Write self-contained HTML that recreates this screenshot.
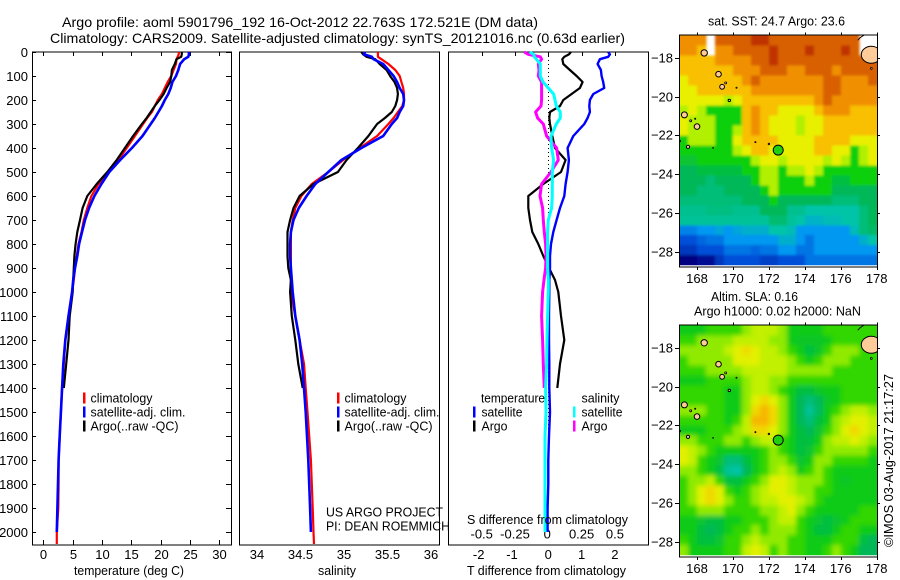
<!DOCTYPE html>
<html>
<head>
<meta charset="utf-8">
<title>Argo profile</title>
<style>
html,body{margin:0;padding:0;background:#fff;}
svg{display:block;}
text{font-family:"Liberation Sans",sans-serif;fill:#000;}
</style>
</head>
<body>
<svg id="chart" xmlns="http://www.w3.org/2000/svg" width="900" height="580" viewBox="0 0 900 580"></svg>
<script>
// ---------- profile data ----------
const depths = [0,10,20,30,50,75,100,125,150,175,200,225,250,275,300,350,400,450,500,550,600,650,700,750,800,850,900,950,1000,1100,1200,1300,1400,1500,1600,1700,1800,1900,2000,2050];
const tempClim = [23.1,23.07,22.9,22.7,22.6,22.2,21.8,21.2,20.7,20.2,19.5,19.0,18.5,17.7,17.0,15.6,14.2,12.8,11.1,9.4,8.2,7.5,6.9,6.5,6.0,5.7,5.4,5.2,4.9,4.3,3.75,3.5,3.2,3.0,2.8,2.6,2.6,2.55,2.3,2.3];
const tempSat = [24.8,24.8,24.7,24.0,23.3,23.0,22.6,22.0,21.7,21.3,20.7,20.2,19.6,19.0,18.3,16.9,15.1,13.1,11.25,9.9,8.7,7.8,7.1,6.6,6.1,5.8,5.4,5.1,4.9,4.3,3.75,3.4,3.2,3.0,2.8,2.6,2.5,2.4,2.3,null];
const tempArgo = [23.6,23.6,23.5,22.7,22.4,21.9,21.8,21.6,21.0,20.5,19.8,19.0,18.3,17.6,16.8,15.3,13.9,12.5,10.9,9.1,7.5,6.7,6.25,5.8,5.5,5.3,5.2,5.1,5.0,4.5,4.3,3.9,3.5,null,null,null,null,null,null,null];
const salClim = [35.39,35.39,35.39,35.43,35.51,35.59,35.64,35.66,35.68,35.69,35.69,35.67,35.62,35.57,35.51,35.38,35.18,34.99,34.82,34.63,34.51,34.44,34.41,34.39,34.39,34.39,34.39,34.39,34.39,34.44,34.49,34.54,34.56,34.58,34.60,34.62,34.63,34.64,34.65,34.655];
const salSat = [35.24,35.23,35.32,35.34,35.45,35.51,35.57,35.61,35.64,35.68,35.69,35.68,35.64,35.61,35.55,35.45,35.2,34.97,34.82,34.67,34.57,34.48,34.42,34.39,34.38,34.38,34.39,34.40,34.41,34.44,34.49,34.52,34.54,34.56,34.575,34.59,34.60,34.61,34.62,null];
const salArgo = [35.2,35.22,35.26,35.36,35.41,35.49,35.53,35.58,35.61,35.62,35.61,35.59,35.55,35.47,35.38,35.28,35.16,35.03,34.93,34.65,34.49,34.42,34.38,34.35,34.35,34.35,34.36,34.39,34.38,34.40,34.44,34.475,34.525,null,null,null,null,null,null,null];
const diffTempSat = [1.8,1.85,1.8,1.55,1.48,1.58,1.6,1.65,1.68,1.35,1.25,1.23,1.25,1.18,1.08,0.75,0.58,0.62,0.58,0.52,0.48,0.35,0.25,0.15,0.08,0.05,0.05,0.03,0.03,0.02,0.02,0.03,0.03,0.05,0.02,0,0,-0.02,-0.02,null];
const diffTempArgo = [0.68,0.62,0.48,0.42,0.45,0.65,0.85,1.03,0.95,0.7,0.45,0.35,0.05,0.03,0.05,0.12,0.2,0.52,0.38,-0.15,-0.6,-0.6,-0.55,-0.48,-0.3,-0.15,0.02,0.2,0.3,0.38,0.48,0.35,0.27,null,null,null,null,null,null,null];
const diffSalSat = [-0.14,-0.11,-0.105,-0.09,-0.06,-0.06,-0.06,-0.04,0,0.04,0.05,0.06,0.09,0.09,0.06,0.02,0.025,0.04,0.03,0.03,0.03,0.025,0,-0.005,-0.005,-0.005,-0.005,0,0,-0.005,-0.01,-0.0125,-0.02,-0.0175,-0.025,-0.025,-0.025,-0.025,-0.025,null];
const diffSalArgo = [-0.18,-0.15,-0.06,-0.05,-0.075,-0.07,-0.075,-0.05,-0.05,-0.05,-0.05,-0.055,-0.095,-0.08,-0.0375,-0.0125,0.0625,0.075,0.02,-0.05,-0.0625,-0.0425,-0.0375,-0.03,-0.02,-0.0175,-0.02,-0.0325,-0.0425,-0.05,-0.0425,-0.0375,-0.03,null,null,null,null,null,null,null];

// ---------- tick labels ----------
const depthTicks = [0,100,200,300,400,500,600,700,800,900,1000,1100,1200,1300,1400,1500,1600,1700,1800,1900,2000];
const tempTicks = [0,5,10,15,20,25,30];
const salTicks = [34,34.5,35,35.5,36];
const diffTempTicks = [-2,-1,0,1,2];
const diffSalTicks = [-0.5,-0.25,0,0.25,0.5];
const lonTicks = [168,170,172,174,176,178];
const latTicks = [-18,-20,-22,-24,-26,-28];

// ---------- map data (half-degree cells, colour-scale level; null = no data) ----------
const sstGrid = [
[9,9,9,null,10,10,10,10,11,11,10,10,10,10,10,10,10,10,10,10,null,null],
[9,9,8,null,9,9,10,10,10,10,11,10,10,10,11,10,10,10,11,10,null,null],
[8,8,8,8,9,9,9,9,10,10,11,10,10,10,10,10,10,10,10,10,10,10],
[8,8,8,8,8,8,9,9,9,10,10,10,9,9,10,10,10,9,10,10,10,10],
[7,8,8,8,8,8,8,9,10,9,9,9,9,9,9,9,10,10,9,9,9,10],
[7,7,8,8,8,8,8,8,9,9,9,9,9,9,9,9,10,10,9,9,9,9],
[7,7,7,7,7,6,7,8,8,8,8,8,8,8,8,9,10,9,9,9,9,9],
[6,7,6,5,5,5,5,8,9,8,8,7,7,7,7,8,9,9,9,8,8,8],
[7,6,6,6,5,5,5,8,9,8,7,7,7,6,7,7,8,8,8,8,8,8],
[7,6,6,6,5,5,6,8,9,8,7,7,7,6,7,7,8,8,8,8,8,8],
[5,6,6,6,5,5,7,8,8,8,8,7,7,7,7,8,8,8,8,7,7,7],
[5,5,5,5,5,5,6,7,8,8,7,7,7,7,7,8,8,7,7,5,6,7],
[4.5,4.5,5,5,5,5,5,5,6,7,7,6,7,7,7,7,6,7,6,5,6,7],
[4,4,4.3,4.3,4.3,4.3,4.3,5,5,6,6,5,6,6,7,6,5,5,5,5,5,5],
[4,4,4,3.6,4,4,4,4,5,6,6,5,5,5,6,5,5,4.3,4.3,5,5,5],
[4,4,3.6,3.6,3.6,4,4,4,4,5,6,5,5,5,5,5,5,4,4,4,4,4],
[3.6,3.6,3.6,3.6,3.6,3.6,3.6,4,4,4,5,4,4,4,4,4,4,3.6,3.6,3.6,4,4],
[3.3,3.3,3.3,3.5,3.5,3.5,3.3,3.3,3.3,4,4,4,3.3,3.3,3,3,3,3,3,3,3.6,4],
[3.2,3.2,3.2,3.2,3.2,3.2,3.2,3.2,3.2,3.2,3.7,3.7,3.2,3,2.6,2.6,2.8,2.8,3,3,3.6,4],
[1.7,1.7,2,2,2.3,2,2.3,2.5,2.5,2.5,3,3,2.8,2,2,2,2,2,2,2.8,3.6,3.8],
[1,1,1.3,1.5,1.5,2,2,2,2,2,2,2.5,2.5,2,1.5,2,2,2,2,2,2.5,3],
[0.7,0.7,1,1,1,1.5,1.5,1.5,1.3,1.5,1.5,2,2,1.5,1.5,2,2,2,2,2,2,2],
[0,0,0.2,0.2,0.7,1,1,1,1,0.8,0.8,1,1,1,1.5,1.5,1.5,1.5,1.5,1.5,1.5,1.5]
];
const slaGrid = [
[4.8,4.8,4.8,5.2,5.2,5.2,5.2,5.8,6.3,6.3,6.3,5.8,4.8,4.8,4.8,4.8,5.2,5.2,5.2,5.2,5.2,5.2],
[5.2,5.2,5.8,5.8,5.8,5.8,6.3,6.3,6.3,6.3,5.8,5.8,4.8,4.6,4.6,4.6,4.8,5.2,5.2,5.2,5.2,5.2],
[5.8,5.8,5.8,5.8,5.8,6.3,6.9,7.4,6.9,6.3,6.3,5.8,5.2,4.8,4.3,4.6,5.2,5.8,5.8,5.8,5.2,5.2],
[5.2,5.8,5.8,5.8,5.8,5.8,6.9,6.9,6.9,6.3,6.3,6.3,5.8,5.2,4.8,5.2,5.8,5.8,5.8,5.2,5.2,5.2],
[5.2,5.2,5.2,5.8,5.8,5.8,5.8,6.3,6.3,6.3,6.3,6.3,5.8,5.8,5.8,5.8,5.8,5.2,5.2,5.2,5.2,5.2],
[4.8,4.8,4.8,5.2,5.2,5.2,5.2,5.8,6.3,6.3,5.8,5.8,5.2,5.2,5.2,5.2,5.2,5.2,5.2,5.2,5.2,5.2],
[5.2,5.2,5.2,5.2,5.2,4.8,4.8,5.8,6.3,6.3,5.8,5.2,4.8,4.3,4.3,4.6,4.8,4.8,5.2,5.2,5.2,5.2],
[5.2,5.2,5.2,5.2,5.2,4.8,4.8,5.8,6.9,7.5,6.9,5.8,4.8,4,3.6,4,4.6,4.8,5.2,5.2,5.2,5.2],
[5.8,5.8,5.8,5.2,5.2,4.8,4.8,5.8,7.5,8.2,7.5,5.8,4.8,4,3.2,3.9,4.8,5.2,5.8,6.3,6.3,5.8],
[5.2,5.2,5.2,5.2,5.2,4.8,5.2,6.3,8.2,8.2,7.5,5.8,4.8,4,3.6,4.3,4.8,5.8,6.3,6.9,6.9,6.3],
[4.8,4.8,4.8,5.2,5.2,5.2,5.8,6.3,7.5,7.5,6.9,5.8,4.8,4.3,4,4.5,5.2,5.8,6.9,7.5,6.9,6.3],
[5.8,5.8,5.2,5.2,5.2,5.8,5.8,5.2,5.8,6.3,6.3,5.2,4.8,4.3,4.3,4.8,5.8,6.3,6.3,6.9,6.3,5.8],
[6.9,6.3,5.8,5.2,4.8,4.8,4.8,4.8,4.8,5.2,5.8,5.2,4.8,4.3,4.5,5.2,5.8,5.8,5.8,5.8,5.8,5.2],
[6.9,6.3,5.2,4.8,4.5,3.6,3.6,4.3,4.8,5.2,5.8,5.8,5.2,4.5,4.8,5.8,5.8,5.2,5.2,5.2,5.2,4.8],
[5.8,5.8,5.2,4.8,4.3,3.2,3,4,4.8,5.2,5.8,6.3,5.8,4.8,5.2,5.8,5.2,4.8,4.8,4.8,4.8,4.8],
[5.2,5.8,5.8,6.3,5.2,4.3,4.3,4.8,5.2,5.8,6.9,6.9,6.3,5.8,5.8,5.8,5.2,4.8,4.6,4.8,4.8,4.8],
[5.2,5.8,6.9,7.5,6.9,5.2,4.8,5.2,5.8,6.3,6.9,6.9,6.3,5.8,5.8,5.2,5.2,4.8,4.8,4.8,4.8,4.8],
[5.2,5.8,6.9,7.5,6.9,5.8,5.2,5.2,5.8,6.3,6.3,6.9,6.9,6.3,5.8,5.2,4.8,4.8,4.8,4.8,4.8,4.8],
[5.2,5.2,5.8,5.8,5.8,5.2,5.2,5.2,5.2,5.8,5.8,6.3,6.9,5.8,5.2,4.8,4.8,4.8,4.8,4.8,5.2,5.2],
[4.8,4.8,4.5,4.3,4.3,4.8,4.8,5.2,5.2,5.2,5.8,6.3,6.3,5.2,4.8,4.5,4.3,4.5,4.8,5.2,5.2,5.2],
[4.8,4.8,4.3,4,4.3,4.8,5.2,5.2,5.8,5.2,5.8,5.8,5.8,5.2,4.8,4.3,4.3,4.8,5.2,5.2,4.8,4.8],
[5.2,4.8,4.3,4.3,4.5,5.2,5.2,5.8,6.3,5.8,5.8,5.8,5.2,5.2,4.8,4.8,4.8,5.2,5.2,5.2,4.3,4],
[5.8,4.8,4.8,4.8,4.8,5.2,5.2,6.3,6.9,6.3,5.2,5.8,5.2,5.2,4.8,4.8,5.2,5.8,5.2,4.8,4,4]
];
const islandLons = [168.4,169.2,169.4,169.6,170.2,169.8,167.3,168.0,167.65,167.9,167.5,167.05,168.9,171.25,172.0,177.7];
const islandLats = [-17.75,-18.85,-19.5,-19.3,-19.55,-20.2,-20.95,-21.55,-21.25,-21.15,-22.6,-22.3,-22.65,-22.35,-22.45,-18.55];
const islandSizes = [3.2,2.8,2.4,1,0.6,1.2,3,2.8,1,0.6,1.6,0.8,0.5,0.6,0.8,0.9];
const argoLon = 172.521;
const argoLat = -22.763;

const palette = ['#000080','#0050d8','#0098f0','#00c4a8','#00b858','#10d008','#b0f000','#e8f000','#f8c000','#f09000','#d86000','#c03000'];

const NS = 'http://www.w3.org/2000/svg';
const svg = document.getElementById('chart');
function mk(tag, attrs, parent, name, interactable) {
  const el = document.createElementNS(NS, tag);
  for (const k in attrs) el.setAttribute(k, attrs[k]);
  
  
  (parent || svg).appendChild(el);
  return el;
}
function label(txt, x, y, name, opts) {
  opts = opts || {};
  const a = {x: x, y: y, 'font-size': opts.size || 13};
  if (opts.anchor) a['text-anchor'] = opts.anchor;
  if (opts.len) { a.textLength = opts.len; a.lengthAdjust = 'spacingAndGlyphs'; }
  if (opts.transform) a.transform = opts.transform;
  const t = mk('text', a, opts.parent || svg, name, false);
  t.textContent = txt;
  return t;
}
function hex(c){return [parseInt(c.slice(1,3),16),parseInt(c.slice(3,5),16),parseInt(c.slice(5,7),16)];}
function levelColor(v) {
  const i = Math.max(0, Math.min(Math.floor(v), palette.length - 2)), f = v - i;
  const a = hex(palette[i]), b = hex(palette[i+1]);
  return 'rgb(' + a.map((c,k)=>Math.round(c+(b[k]-c)*f)).join(',') + ')';
}

// ---------- axis scales ----------
const yDepth = d => 52 + 0.24 * d;
const xTemp = t => 43.3 + 5.87 * t;
const xSal = s => 257 + 87 * (s - 34);
const xDiffT = v => 548.3 + 33.3 * v;
const xDiffS = v => 548.3 + 133.2 * v;
const xLon = l => 679 + 17.97 * (l - 167);
const yLatA = l => 57.7 + 19.4 * (-18 - l);
const yLatB = l => 347.7 + 19.4 * (-18 - l);

function frame(x1, x2, name) {
  mk('rect', {x: x1, y: 52, width: x2 - x1, height: 493, fill: 'none', stroke: '#000', 'stroke-width': 1, 'shape-rendering': 'crispEdges'}, svg, name, false);
}
function tick(x1, y1, x2, y2, name, parent) {
  mk('line', {x1: x1, y1: y1, x2: x2, y2: y2, stroke: '#000', 'stroke-width': 1, 'shape-rendering': 'crispEdges'}, parent || svg, name, false);
}
function series(vals, xf, color, width, name) {
  const pts = [];
  vals.forEach((v, i) => { if (v !== null) pts.push(xf(v).toFixed(1) + ',' + yDepth(depths[i]).toFixed(1)); });
  mk('polyline', {points: pts.join(' '), fill: 'none', stroke: color, 'stroke-width': width, 'stroke-linejoin': 'round'}, svg, name, false);
}

// ---------- titles ----------
label('Argo profile: aoml 5901796_192 16-Oct-2012 22.763S 172.521E (DM data)', 62, 27, 'plot-title', {size: 14, len: 476});
label('Climatology: CARS2009. Satellite-adjusted climatology: synTS_20121016.nc (0.63d earlier)', 50, 43, 'plot-subtitle', {size: 14, len: 575});

// ---------- frames ----------
frame(32.5, 231.5, 'temperature-panel-frame');
frame(239.5, 439.5, 'salinity-panel-frame');
frame(448.5, 648.5, 'difference-panel-frame');

// ---------- temperature panel ----------
depthTicks.forEach(d => {
  const y = Math.round(yDepth(d)) + 0.5;
  tick(32, y, 36, y, 'depth-tick-left');
  tick(226, y, 231, y, 'depth-tick-right');
  label(String(d), 28, y + 4.5, 'depth-tick-label', {anchor: 'end'});
});
tempTicks.forEach(t => {
  const x = Math.round(xTemp(t)) + 0.5;
  tick(x, 52, x, 56, 'temperature-tick-top');
  tick(x, 540, x, 545, 'temperature-tick-bottom');
  label(String(t), x, 559, 'temperature-tick-label', {anchor: 'middle'});
});
label('temperature (deg C)', 74, 575, 'temperature-axis-title', {len: 110});
series(tempClim, xTemp, '#ff0000', 2.2, 'temperature-climatology-line');
series(tempArgo, xTemp, '#000000', 2.2, 'temperature-argo-line');
series(tempSat, xTemp, '#0000ff', 2.6, 'temperature-satellite-line');

// ---------- salinity panel ----------
salTicks.forEach(s => {
  label(String(s), xSal(s), 559, 'salinity-tick-label', {anchor: 'middle'});
});
label('salinity', 318, 575, 'salinity-axis-title', {len: 38});
series(salClim, xSal, '#ff0000', 2.2, 'salinity-climatology-line');
series(salArgo, xSal, '#000000', 2.2, 'salinity-argo-line');
series(salSat, xSal, '#0000ff', 2.6, 'salinity-satellite-line');
label('US ARGO PROJECT', 326, 516.5, 'project-label', {len: 117});
label('PI: DEAN ROEMMICH', 326, 530.5, 'pi-label', {len: 124});

// ---------- difference panel ----------
diffTempTicks.forEach(v => {
  const x = Math.round(xDiffT(v)) + 0.5;
  tick(x, 52, x, 56, 'difference-tick-top');
  label(String(v), xDiffT(v) - (v < 0 ? 3 : 0), 559, 'temperature-difference-tick-label', {anchor: 'middle'});
});
diffSalTicks.forEach(v => {
  label(String(v), xDiffS(v) - (v === 0 ? 1 : 0), 538.5, 'salinity-difference-tick-label', {anchor: 'middle'});
});
mk('line', {x1: 548.5, y1: 52, x2: 548.5, y2: 450, stroke: '#000', 'stroke-width': 1, 'stroke-dasharray': '1 3'}, svg, 'zero-difference-line', false);
series(diffTempArgo, xDiffT, '#000000', 2.2, 'temperature-difference-argo-line');
series(diffTempSat, xDiffT, '#0000ff', 2.4, 'temperature-difference-satellite-line');
series(diffSalArgo, xDiffS, '#ff00ff', 3, 'salinity-difference-argo-line');
series(diffSalSat, xDiffS, '#00ffff', 3, 'salinity-difference-satellite-line');
label('S difference from climatology', 467, 524, 'salinity-difference-axis-title', {len: 161});
label('T difference from climatology', 467, 575, 'temperature-difference-axis-title', {len: 159});

// ---------- legends ----------
function legendEntry(mx, tx, base, color, txt, len, name) {
  const g = mk('g', {}, svg, name, false);
  if (color) mk('rect', {x: mx, y: base - 10, width: 2.5, height: 11, fill: color, 'shape-rendering': 'crispEdges'}, g, name + '-swatch', false);
  label(txt, tx, base, name + '-label', {len: len, parent: g});
}
legendEntry(83, 90.5, 402.5, '#ff0000', 'climatology', 62, 'temperature-legend-climatology');
legendEntry(83, 90.5, 416.5, '#0000ff', 'satellite-adj. clim.', 95, 'temperature-legend-satellite');
legendEntry(83, 90.5, 430.5, '#000000', 'Argo(..raw -QC)', 88, 'temperature-legend-argo');
legendEntry(337, 344.5, 402.5, '#ff0000', 'climatology', 62, 'salinity-legend-climatology');
legendEntry(337, 344.5, 416.5, '#0000ff', 'satellite-adj. clim.', 95, 'salinity-legend-satellite');
legendEntry(337, 344.5, 430.5, '#000000', 'Argo(..raw -QC)', 88, 'salinity-legend-argo');
legendEntry(0, 481, 402.5, null, 'temperature', 64, 'difference-legend-temperature-heading');
legendEntry(473, 481.5, 416.5, '#0000ff', 'satellite', 41, 'difference-legend-temperature-satellite');
legendEntry(473, 481.5, 430.5, '#000000', 'Argo', 26, 'difference-legend-temperature-argo');
legendEntry(0, 581.5, 402.5, null, 'salinity', 38, 'difference-legend-salinity-heading');
legendEntry(573, 581.5, 416.5, '#00ffff', 'satellite', 41, 'difference-legend-salinity-satellite');
legendEntry(573, 581.5, 430.5, '#ff00ff', 'Argo', 26, 'difference-legend-salinity-argo');

// ---------- maps ----------
function drawMap(grid, top, yLat, prefix, xLabelBase, blur) {
  const left = 679, right = 877, bottom = top + 229.7;
  const colW = (right - left) / 22, rowH = (bottom - top) / 23;
  const nCols = grid[0].length, nRows = grid.length;
  const defs = mk('defs', {}, svg, prefix + '-defs', false);
  const clip = mk('clipPath', {id: prefix + '-clip'}, defs, prefix + '-clip', false);
  mk('rect', {x: left, y: top, width: right - left, height: bottom - top}, clip, prefix + '-clip-rect', false);
  const filt = mk('filter', {id: prefix + '-blur', filterUnits: 'userSpaceOnUse', x: left - 20, y: top - 20, width: right - left + 40, height: bottom - top + 40}, defs, prefix + '-blur-filter', false);
  mk('feGaussianBlur', {stdDeviation: blur}, filt, prefix + '-blur-step', false);
  const clipped = mk('g', {'clip-path': 'url(#' + prefix + '-clip)'}, svg, prefix + '-map-image', false);
  const cells = mk('g', {filter: 'url(#' + prefix + '-blur)', 'shape-rendering': 'crispEdges'}, clipped, prefix + '-map-cells', false);
  grid.forEach((row, r) => row.forEach((v, c) => {
    if (v === null) return;
    // edge cells bleed past the frame so the blur does not fade at the clip
    const padL = c === 0 ? 12 : 0, padR = c === nCols - 1 ? 12 : 0;
    const padT = r === 0 ? 12 : 0, padB = r === nRows - 1 ? 12 : 0;
    const x0 = left + c * colW - padL, y0 = top + r * rowH - padT;
    mk('rect', {x: x0.toFixed(2), y: y0.toFixed(2), width: (colW + 0.3 + padL + padR).toFixed(2), height: (rowH + 0.3 + padT + padB).toFixed(2), fill: levelColor(v)}, cells, prefix + '-cell', false);
  }));
  const land = mk('g', {'clip-path': 'url(#' + prefix + '-clip)'}, svg, prefix + '-land', false);
  mk('ellipse', {cx: xLon(177.7), cy: yLat(-17.85), rx: 10, ry: 8.5, fill: '#ffcc99', stroke: '#000', 'stroke-width': 1}, land, prefix + '-main-island', false);
  mk('path', {d: 'M' + xLon(176.95) + ' ' + yLat(-17.1) + ' Q' + xLon(177.1) + ' ' + yLat(-16.9) + ' ' + xLon(177.5) + ' ' + yLat(-16.75), fill: 'none', stroke: '#000', 'stroke-width': 1}, land, prefix + '-island-coast', false);
  islandLons.forEach((lon, i) => {
    mk('circle', {cx: xLon(lon).toFixed(1), cy: yLat(islandLats[i]).toFixed(1), r: islandSizes[i], fill: '#ffcc99', stroke: '#000', 'stroke-width': islandSizes[i] > 1 ? 1 : 0.8}, land, prefix + '-island', false);
  });
  mk('circle', {cx: xLon(argoLon).toFixed(1), cy: yLat(argoLat).toFixed(1), r: 5, fill: '#20d010', stroke: '#000', 'stroke-width': 1}, svg, prefix + '-argo-position-marker', false);
  mk('path', {d: 'M' + left + '.5 ' + top + ' V' + (bottom + 2) + ' H' + right + '.5 V' + top, fill: 'none', stroke: '#000', 'stroke-width': 1, 'shape-rendering': 'crispEdges'}, svg, prefix + '-map-frame', false);
  mk('line', {x1: left, y1: top - 0.5, x2: right, y2: top - 0.5, stroke: '#000', 'stroke-width': 1, 'shape-rendering': 'crispEdges'}, svg, prefix + '-map-frame-top', false);
  lonTicks.forEach(l => {
    const x = Math.round(xLon(l)) + 0.5;
    tick(x, top - 3, x, top, prefix + '-lon-tick-top');
    tick(x, bottom + 2, x, bottom + 5, prefix + '-lon-tick-bottom');
    label(String(l), xLon(l), xLabelBase, prefix + '-lon-tick-label', {anchor: 'middle', size: 13});
  });
  latTicks.forEach(l => {
    const y = Math.round(yLat(l)) + 0.5;
    tick(675, y, 679, y, prefix + '-lat-tick-left');
    tick(877, y, 880, y, prefix + '-lat-tick-right');
    label('\u2212' + Math.abs(l), 673, y + 4, prefix + '-lat-tick-label', {anchor: 'end', size: 13});
  });
}
drawMap(sstGrid, 35.5, yLatA, 'sst', 283, 1.3);
drawMap(slaGrid, 325.5, yLatB, 'sla', 573, 2.5);
label('sat. SST: 24.7  Argo: 23.6', 708, 25.5, 'sst-map-title', {len: 137});
label('Altim. SLA: 0.16', 711, 301, 'sla-map-title', {len: 87});
label('Argo h1000: 0.02  h2000: NaN', 694, 315.5, 'sla-map-subtitle', {len: 167});
label('\u00A9IMOS 03-Aug-2017 21:17:27', 893, 547, 'timestamp-credit', {len: 173, transform: 'rotate(-90 893 547)'});
</script>
</body>
</html>
